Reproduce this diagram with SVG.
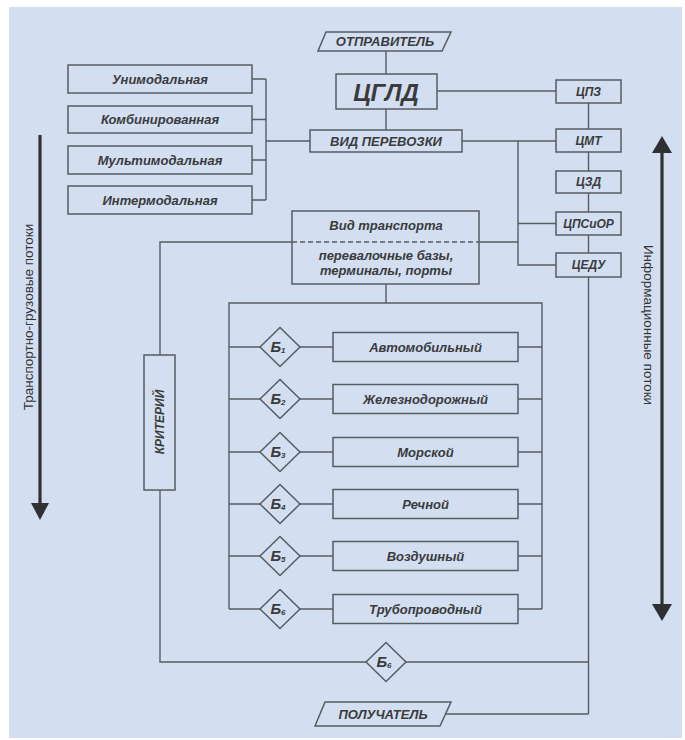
<svg xmlns="http://www.w3.org/2000/svg" width="685" height="740" viewBox="0 0 685 740">
<defs>
<style>
.bg{fill:#d3dff0}
.box{fill:none;stroke:#575c62;stroke-width:1.5}
.ln{fill:none;stroke:#575c62;stroke-width:1.4}
.t{font-family:"Liberation Sans",Arial,sans-serif;font-weight:bold;font-style:italic;fill:#3a3b3d;text-anchor:middle;dominant-baseline:central}
.s{font-size:13px}
.m{font-size:12px}
.b{font-size:15px}
.sub{font-size:8px}
.arr{stroke:#2f3032;stroke-width:3.2;fill:none}
.ah{fill:#2f3032}
.al{font-family:"Liberation Sans",Arial,sans-serif;font-size:13.5px;fill:#333;text-anchor:middle;dominant-baseline:central}
</style>
</defs>
<rect x="0" y="0" width="685" height="740" fill="#ffffff"/>
<rect class="bg" x="9" y="7" width="673" height="731"/>

<g id="connectors">
<path class="ln" d="M386,51V74"/>
<path class="ln" d="M437,91H556"/>
<path class="ln" d="M386,109V130"/>
<path class="ln" d="M462,141H556"/>
<path class="ln" d="M588.5,103V129M588.5,152V171M588.5,193V212M588.5,235V253M588.5,277V714"/>
<path class="ln" d="M518,141V265H556M518,223.5H556"/>
<path class="ln" d="M479,242H518"/>
<path class="ln" d="M292,242H160V355"/>
<path class="ln" d="M160,490V662H366M406,662H588.5"/>
<path class="ln" d="M446,714H588.5"/>
<path class="ln" d="M252,79H266M252,119.5H266M252,160H266M252,200H266M266,79V200M266,141H310"/>
<path class="ln" d="M386,284V303"/>
<path class="ln" d="M229,609V303H542V609"/>
<path class="ln" d="M229,347H260M300,347H333M518,347H542"/>
<path class="ln" d="M229,399H260M300,399H333M518,399H542"/>
<path class="ln" d="M229,452H260M300,452H333M518,452H542"/>
<path class="ln" d="M229,504H260M300,504H333M518,504H542"/>
<path class="ln" d="M229,556H260M300,556H333M518,556H542"/>
<path class="ln" d="M229,609H260M300,609H333M518,609H542"/>
</g>

<g id="arrow-left">
<path class="arr" d="M40,135V506"/>
<polygon class="ah" points="31,503 49,503 40,520"/>
<text class="al" transform="translate(28,317) rotate(-90)">Транспортно-грузовые потоки</text>
</g>
<g id="arrow-right">
<path class="arr" d="M662,150V607"/>
<polygon class="ah" points="652,153 672,153 662,136"/>
<polygon class="ah" points="652,604 672,604 662,621"/>
<text class="al" transform="translate(648,325) rotate(90)">Информационные потоки</text>
</g>

<g id="sender">
<polygon class="box" points="326,32 451,32 442,51 318,51"/>
<text class="t s" x="385" y="41.5">ОТПРАВИТЕЛЬ</text>
</g>
<g id="cgld">
<rect class="box" x="336" y="74" width="101" height="35"/>
<text class="t" style="font-size:24px" x="386" y="92">ЦГЛД</text>
</g>
<g id="cpz"><rect class="box" x="556" y="80" width="65" height="23"/><text class="t m" x="588.5" y="91.5">ЦПЗ</text></g>
<g id="cmt"><rect class="box" x="556" y="129" width="65" height="23"/><text class="t m" x="588.5" y="140.5">ЦМТ</text></g>
<g id="czd"><rect class="box" x="556" y="171" width="65" height="22"/><text class="t m" x="588.5" y="182">ЦЗД</text></g>
<g id="cpsior"><rect class="box" x="556" y="212" width="65" height="23"/><text class="t m" x="588.5" y="223.5">ЦПСиОР</text></g>
<g id="cedu"><rect class="box" x="556" y="253" width="65" height="24"/><text class="t m" x="588.5" y="265">ЦЕДУ</text></g>

<g id="vid-perevozki">
<rect class="box" x="310" y="130" width="152" height="22"/>
<text class="t s" x="386" y="141">ВИД ПЕРЕВОЗКИ</text>
</g>

<g id="unimodal"><rect class="box" x="68" y="65" width="184" height="28"/><text class="t s" x="160" y="79">Унимодальная</text></g>
<g id="combined"><rect class="box" x="68" y="106" width="184" height="27"/><text class="t s" x="160" y="119.5">Комбинированная</text></g>
<g id="multimodal"><rect class="box" x="68" y="146" width="184" height="28"/><text class="t s" x="160" y="160">Мультимодальная</text></g>
<g id="intermodal"><rect class="box" x="68" y="186" width="184" height="28"/><text class="t s" x="160" y="200">Интермодальная</text></g>

<g id="vid-transporta">
<rect class="box" x="292" y="211" width="187" height="73"/>
<path d="M292,242H479" stroke="#575c62" stroke-width="1.3" stroke-dasharray="5,3"/>
<text class="t s" x="386" y="225">Вид транспорта</text>
<text class="t s" x="386" y="255">перевалочные базы,</text>
<text class="t s" x="386" y="270">терминалы, порты</text>
</g>

<g id="kriteriy">
<rect class="box" x="144" y="355" width="31" height="135"/>
<text class="t m" transform="translate(160,422) rotate(-90)">КРИТЕРИЙ</text>
</g>

<g id="b1"><polygon class="box" points="280,327.5 300,347 280,366.5 260,347"/><text class="t b" x="278" y="346">Б<tspan class="sub" dy="4">1</tspan></text></g>
<g id="b2"><polygon class="box" points="280,379.5 300,399 280,418.5 260,399"/><text class="t b" x="278" y="398">Б<tspan class="sub" dy="4">2</tspan></text></g>
<g id="b3"><polygon class="box" points="280,432.5 300,452 280,471.5 260,452"/><text class="t b" x="278" y="451">Б<tspan class="sub" dy="4">3</tspan></text></g>
<g id="b4"><polygon class="box" points="280,484.5 300,504 280,523.5 260,504"/><text class="t b" x="278" y="503">Б<tspan class="sub" dy="4">4</tspan></text></g>
<g id="b5"><polygon class="box" points="280,536.5 300,556 280,575.5 260,556"/><text class="t b" x="278" y="555">Б<tspan class="sub" dy="4">5</tspan></text></g>
<g id="b6"><polygon class="box" points="280,589.5 300,609 280,628.5 260,609"/><text class="t b" x="278" y="608">Б<tspan class="sub" dy="4">6</tspan></text></g>

<g id="auto"><rect class="box" x="333" y="332.5" width="185" height="29"/><text class="t s" x="425.5" y="347">Автомобильный</text></g>
<g id="rail"><rect class="box" x="333" y="384.5" width="185" height="29"/><text class="t s" x="425.5" y="399">Железнодорожный</text></g>
<g id="sea"><rect class="box" x="333" y="437.5" width="185" height="29"/><text class="t s" x="425.5" y="452">Морской</text></g>
<g id="river"><rect class="box" x="333" y="489.5" width="185" height="29"/><text class="t s" x="425.5" y="504">Речной</text></g>
<g id="air"><rect class="box" x="333" y="541.5" width="185" height="29"/><text class="t s" x="425.5" y="556">Воздушный</text></g>
<g id="pipe"><rect class="box" x="333" y="594.5" width="185" height="29"/><text class="t s" x="425.5" y="609">Трубопроводный</text></g>

<g id="b-bottom"><polygon class="box" points="386,642.5 406,662 386,681.5 366,662"/><text class="t b" x="384" y="661">Б<tspan class="sub" dy="4">6</tspan></text></g>

<g id="receiver">
<polygon class="box" points="325,702 451,702 440,726 315,726"/>
<text class="t s" x="383" y="714">ПОЛУЧАТЕЛЬ</text>
</g>
</svg>
